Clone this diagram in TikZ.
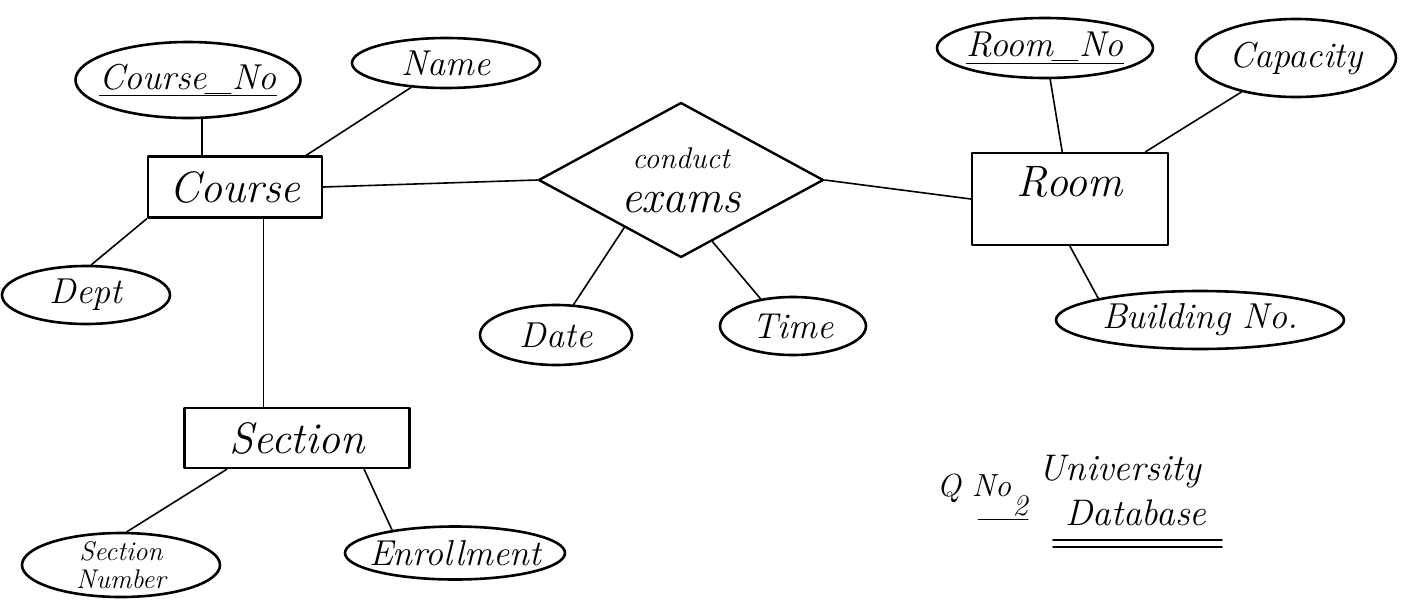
\documentclass[tikz,border=0pt]{standalone}
\usepackage{fontspec}
\usetikzlibrary{shapes.geometric}
\begin{document}
\begin{tikzpicture}[x=1pt,y=-1pt,
  line join=round, line cap=round,
  ent/.style={draw, rectangle, line width=2.6pt, inner sep=0pt,
    font=\fontsize{44}{48}\selectfont\itshape},
  attr/.style={draw, ellipse, line width=2.6pt, inner xsep=-22pt, inner ysep=-10pt,
    align=center, font=\fontsize{36}{38}\selectfont\itshape},
  rel/.style={draw, diamond, line width=2.4pt, inner sep=0pt, align=center,
    aspect=1.84, font=\fontsize{46}{44}\selectfont\itshape},
  link/.style={line width=1.6pt},
  note/.style={inner sep=0pt, font=\fontsize{37}{40}\selectfont\itshape}]
\useasboundingbox (0,0) rectangle (1409,606);

% entities
\node[ent, minimum width=174pt, minimum height=61pt] (course) at (235,187) {Course};
\node[ent, minimum width=225pt, minimum height=60pt] (section) at (297,438) {Section};
\node[ent, minimum width=196pt, minimum height=92pt, text depth=36pt] (room) at (1070,199) {Room};

% relationship
\node[rel, minimum width=285pt, minimum height=155pt] (exams) at (681,180)
  {{\fontsize{30}{32}\selectfont conduct}\\exams};

% attributes of Course
\node[attr, minimum width=225pt, minimum height=76pt] (cno) at (188,80) {\underline{Course\_No}};
\node[attr, minimum width=188pt, minimum height=50pt] (name) at (446,63) {Name};
\node[attr, minimum width=168pt, minimum height=58pt] (dept) at (86,295) {Dept};

% attributes of Section
\node[attr, minimum width=198pt, minimum height=64pt, inner ysep=-16pt,
  font=\fontsize{27}{28}\selectfont\itshape] (secno) at (121,565) {Section\\Number};
\node[attr, minimum width=220pt, minimum height=53pt] (enroll) at (455,553) {Enrollment};

% attributes of the relationship
\node[attr, minimum width=152pt, minimum height=60pt] (date) at (556,335) {Date};
\node[attr, minimum width=146pt, minimum height=58pt] (time) at (793,326) {Time};

% attributes of Room
\node[attr, minimum width=216pt, minimum height=60pt] (rno) at (1045,48) {\underline{Room\_No}};
\node[attr, minimum width=200pt, minimum height=78pt] (cap) at (1296,58) {Capacity};
\node[attr, minimum width=288pt, minimum height=58pt] (bno) at (1200,320) {Building No.};

% connectors
\draw[link] (cno.-70) -- (cno.-70 |- course.north);
\draw[link] (name.215) -- (course.24);
\draw[link] (dept.80) -- (course.south west);
\draw[link] (course.-48) -- (course.-48 |- section.north);
\draw[link] (course.east) -- (exams.west);
\draw[link] (exams.east) -- (room.west);
\draw[link] (date.60) -- (exams.220);
\draw[link] (time.140) -- (exams.-63);
\draw[link] (rno) -- (room);
\draw[link] (cap) -- (room);
\draw[link] (bno.168) -- (room.south);
\draw[link] (secno.80) -- (section.204);
\draw[link] (enroll.160) -- (section.-25);

% title
\node[note, font=\fontsize{32}{34}\selectfont\itshape] (qno) at (974,488) {Q No};
\node[note, font=\fontsize{30}{32}\selectfont\itshape] (two) at (1020,506) {2};
\draw[link] ([yshift=-3pt]two.south east) -- ([yshift=-3pt,xshift=-34pt]two.south west);
\node[note] (univ) at (1120,472) {University};
\node[note] (db) at (1136,513) {Database};
\draw[link] (1053,540) coordinate (u1) -- (1222,540) coordinate (u2);
\draw[link] (1053,547) coordinate (u3) -- (1222,547) coordinate (u4);
\end{tikzpicture}
\end{document}
